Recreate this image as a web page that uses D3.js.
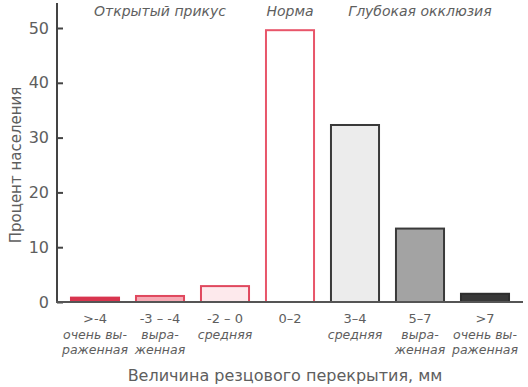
<!DOCTYPE html>
<html><head><meta charset="utf-8">
<script src="https://cdn.jsdelivr.net/npm/d3@7"></script>
<style>body{margin:0;background:#fff}svg{display:block}text{font-family:"DejaVu Sans",sans-serif}</style>
</head><body>
<svg id="c" width="528" height="387"></svg>
<script>
const categories = [">-4", "-3 – -4", "-2 – 0", "0–2", "3–4", "5–7", ">7"];
const subLabels1 = ["очень вы-", "выра-", "средняя", "", "средняя", "выра-", "очень вы-"];
const subLabels2 = ["раженная", "женная", "", "", "", "женная", "раженная"];
const values = [0.8, 1.1, 2.9, 49.6, 32.3, 13.4, 1.5];
const fills = ["#d8354e", "#f6aab5", "#fde9ec", "#ffffff", "#ececec", "#a3a3a3", "#383838"];
const strokes = ["#d8354e", "#e0485e", "#e0485e", "#e8566a", "#3a3a3a", "#3a3a3a", "#2e2e2e"];
const yTicks = [0, 10, 20, 30, 40, 50];
const groups = [{label:"Открытый прикус", from:0, to:2}, {label:"Норма", from:3, to:3}, {label:"Глубокая окклюзия", from:4, to:6}];

const svg = d3.select("#c");
const x = d3.scaleBand().domain(categories).range([62.5, 517.5]).paddingInner(0.23).paddingOuter(0.115);
const y = d3.scaleLinear().domain([0, 50]).range([302, 28]);
const txt = "#5e5e5e";

// bars
svg.selectAll("rect.bar").data(values).join("rect")
  .attr("x", (d,i)=>x(categories[i])+1)
  .attr("width", x.bandwidth()-2)
  .attr("y", d=>y(d))
  .attr("height", d=>y(0)-y(d))
  .attr("fill", (d,i)=>fills[i])
  .attr("stroke", (d,i)=>strokes[i])
  .attr("stroke-width", 2);

// y axis
const yAxis = d3.axisLeft(y).tickValues(yTicks).tickSize(-6).tickPadding(8);
const gy = svg.append("g").attr("transform","translate(57,0)").call(yAxis);
gy.select(".domain").remove();
gy.selectAll(".tick line").attr("stroke","#444").attr("stroke-width",2);
gy.selectAll(".tick text").attr("fill",txt).attr("font-size",16).attr("font-family","DejaVu Sans");
svg.append("line").attr("x1",57).attr("x2",57).attr("y1",3).attr("y2",y(0)+1).attr("stroke","#444").attr("stroke-width",2);
svg.append("line").attr("x1",56).attr("x2",523).attr("y1",y(0)).attr("y2",y(0)).attr("stroke","#555").attr("stroke-width",2);

// x labels
const xl = svg.append("g");
categories.forEach((c,i)=>{
  const cx = x(c)+x.bandwidth()/2;
  xl.append("text").attr("x",cx).attr("y",323).attr("text-anchor","middle").attr("fill",txt).attr("font-size",13).text(c);
  if (subLabels1[i]) xl.append("text").attr("x",cx).attr("y",339).attr("text-anchor","middle").attr("fill",txt).attr("font-size",12.5).attr("font-style","italic").text(subLabels1[i]);
  if (subLabels2[i]) xl.append("text").attr("x",cx).attr("y",354).attr("text-anchor","middle").attr("fill",txt).attr("font-size",12.5).attr("font-style","italic").text(subLabels2[i]);
});

// group labels
groups.forEach(g=>{
  const cx = (x(categories[g.from]) + x(categories[g.to]) + x.bandwidth())/2;
  svg.append("text").attr("x",cx).attr("y",16).attr("text-anchor","middle").attr("fill",txt).attr("font-size",14).attr("font-style","italic").text(g.label);
});

// axis titles
svg.append("text").attr("x",285).attr("y",381).attr("text-anchor","middle").attr("fill",txt).attr("font-size",16).text("Величина резцового перекрытия, мм");
svg.append("text").attr("transform","translate(21,165) rotate(-90)").attr("text-anchor","middle").attr("fill",txt).attr("font-size",15).text("Процент населения");
</script>
</body></html>
